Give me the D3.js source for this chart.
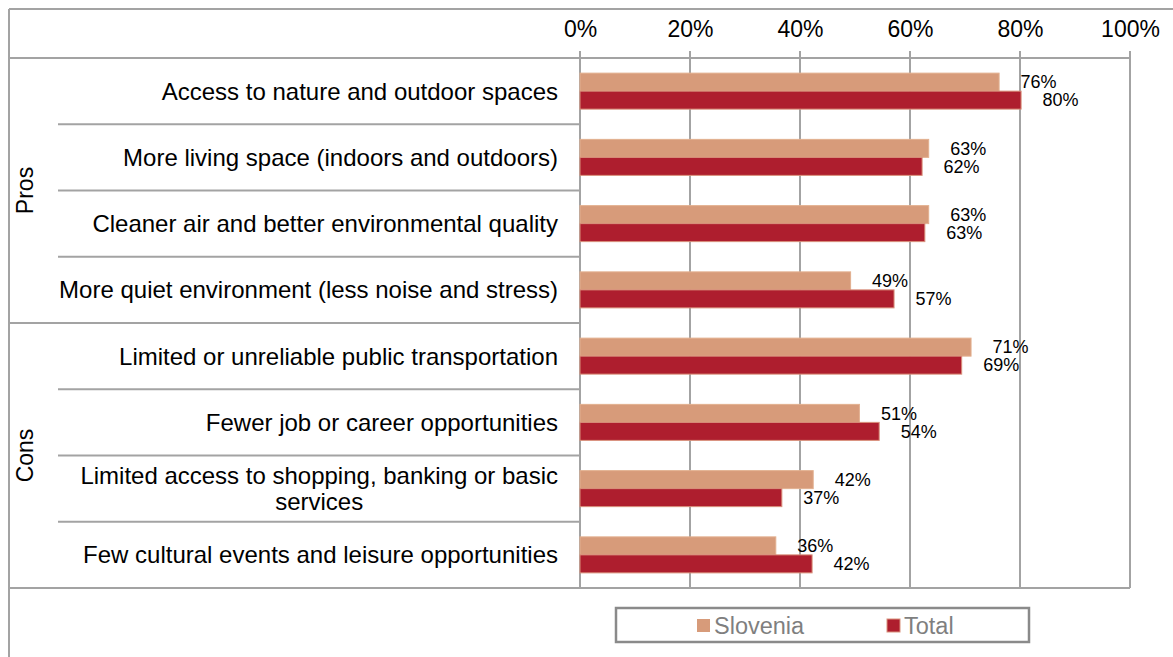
<!DOCTYPE html>
<html><head><meta charset="utf-8">
<script src="https://cdn.jsdelivr.net/npm/d3@7"></script>
<style>
body{margin:0;background:#fff;}
svg{display:block;font-family:"Liberation Sans",Arial,sans-serif;}
</style>
</head><body>
<svg id="chart" width="1173" height="657"></svg>
<script>
// ---- data ----
const categories = [
  "Access to nature and outdoor spaces",
  "More living space (indoors and outdoors)",
  "Cleaner air and better environmental quality",
  "More quiet environment (less noise and stress)",
  "Limited or unreliable public transportation",
  "Fewer job or career opportunities",
  "Limited access to shopping, banking or basic services",
  "Few cultural events and leisure opportunities"
];
const categoryLines = [
  ["Access to nature and outdoor spaces"],
  ["More living space (indoors and outdoors)"],
  ["Cleaner air and better environmental quality"],
  ["More quiet environment (less noise and stress)"],
  ["Limited or unreliable public transportation"],
  ["Fewer job or career opportunities"],
  ["Limited access to shopping, banking or basic", "services"],
  ["Few cultural events and leisure opportunities"]
];
const groupNames = ["Pros", "Cons"];
const groupOf = ["Pros","Pros","Pros","Pros","Cons","Cons","Cons","Cons"];
const seriesNames = ["Slovenia", "Total"];
const slovenia = [76.2, 63.4, 63.4, 49.2, 71.1, 50.8, 42.4, 35.6];
const total    = [80.2, 62.2, 62.7, 57.1, 69.4, 54.4, 36.7, 42.2];
const tickValues = [0, 20, 40, 60, 80, 100];
const tickLabels = ["0%", "20%", "40%", "60%", "80%", "100%"];
const colors = ["#D79B7A", "#AE1E2E"];

// ---- layout ----
const svg = d3.select("#chart");
const X0 = 580, X1 = 1130, Y0 = 58, Y1 = 588;
const lineCol = "#a3a3a3";
const catFont = 24;
const x = d3.scaleLinear().domain([0, 100]).range([X0, X1]);
const y = d3.scaleBand().domain(categories).range([Y0, Y1]).padding(0);
const bw = y.bandwidth();
const ys = d3.scaleBand().domain(seriesNames).range([bw/2 - 18, bw/2 + 18]).padding(0);

// outer frame
svg.append("line").attr("x1", 9).attr("x2", 1173).attr("y1", 9).attr("y2", 9)
  .attr("stroke", lineCol).attr("stroke-width", 2);
svg.append("line").attr("x1", 9).attr("x2", 9).attr("y1", 9).attr("y2", 657)
  .attr("stroke", lineCol).attr("stroke-width", 2);

// header & bottom lines
svg.append("line").attr("x1", 9).attr("x2", X1).attr("y1", Y0).attr("y2", Y0)
  .attr("stroke", lineCol).attr("stroke-width", 2);
svg.append("line").attr("x1", 9).attr("x2", X1).attr("y1", Y1).attr("y2", Y1)
  .attr("stroke", lineCol).attr("stroke-width", 2);

// gridlines
svg.append("g").selectAll("line").data(tickValues).join("line")
  .attr("x1", d => x(d)).attr("x2", d => x(d))
  .attr("y1", Y0 - 7).attr("y2", Y1)
  .attr("stroke", lineCol).attr("stroke-width", 2);

// top axis labels
const axis = d3.axisTop(x).tickValues(tickValues)
  .tickFormat((d, i) => tickLabels[i]).tickSize(0).tickPadding(21);
const ag = svg.append("g").attr("transform", `translate(0,${Y0})`).call(axis);
ag.select(".domain").remove();
ag.selectAll("text").attr("font-size", 23).attr("fill", "#000")
  .attr("font-family", "'Liberation Sans', Arial, sans-serif");

// category dividers
categories.forEach((c, i) => {
  if (i === 0) return;
  const yy = y(c);
  const groupBoundary = groupOf[i] !== groupOf[i - 1];
  svg.append("line").attr("x1", groupBoundary ? 9 : 58).attr("x2", X0)
    .attr("y1", yy).attr("y2", yy)
    .attr("stroke", lineCol).attr("stroke-width", 2);
});

// group labels
groupNames.forEach(g => {
  const idx = categories.filter((c, i) => groupOf[i] === g);
  const top = y(idx[0]), bot = y(idx[idx.length - 1]) + bw;
  const cy = (top + bot) / 2;
  svg.append("text").attr("transform", `translate(25,${cy}) rotate(-90)`)
    .attr("text-anchor", "middle").attr("dy", "0.35em")
    .attr("font-size", 23).attr("fill", "#000").text(g);
});

// category labels
categories.forEach((c, i) => {
  const lines = categoryLines[i];
  const cy = y(c) + bw / 2;
  const lh = 26;
  if (lines.length === 1) {
    svg.append("text").attr("x", 558).attr("y", cy).attr("dy", "0.35em")
      .attr("text-anchor", "end").attr("font-size", catFont).attr("fill", "#000").text(lines[0]);
  } else {
    const t = svg.append("text").attr("font-size", catFont).attr("fill", "#000")
      .attr("text-anchor", "middle");
    const tmp = svg.append("text").attr("font-size", catFont).text(lines[0]);
    const w = tmp.node().getComputedTextLength();
    tmp.remove();
    const cx = 558 - w / 2;
    lines.forEach((ln, k) => {
      t.append("tspan").attr("x", cx)
        .attr("y", cy + (k - (lines.length - 1) / 2) * lh).attr("dy", "0.35em").text(ln);
    });
  }
});

// bars
const seriesData = [slovenia, total];
seriesNames.forEach((s, si) => {
  const g = svg.append("g");
  g.selectAll("rect").data(seriesData[si]).join("rect")
    .attr("x", x(0))
    .attr("y", (d, i) => y(categories[i]) + ys(s))
    .attr("width", d => x(d) - x(0))
    .attr("height", ys.bandwidth())
    .attr("fill", colors[si])
    .attr("stroke", si === 1 ? "#d9917c" : "#e2b08f")
    .attr("stroke-width", 1);
  g.selectAll("text").data(seriesData[si]).join("text")
    .attr("x", d => x(d) + 21.5)
    .attr("y", (d, i) => y(categories[i]) + ys(s) + ys.bandwidth() / 2)
    .attr("dy", "0.35em")
    .attr("font-size", 18).attr("fill", "#000")
    .text(d => Math.round(d) + "%");
});

// legend
const lg = svg.append("g");
lg.append("rect").attr("x", 616).attr("y", 608).attr("width", 413).attr("height", 34)
  .attr("fill", "#fff").attr("stroke", "#8a8a8a").attr("stroke-width", 2.5);
const legendX = [697, 887];
seriesNames.forEach((s, si) => {
  lg.append("rect").attr("x", legendX[si]).attr("y", 619).attr("width", 13).attr("height", 13)
    .attr("fill", colors[si]).attr("stroke", si === 1 ? "#d9917c" : "none");
  lg.append("text").attr("x", legendX[si] + 17).attr("y", 625.5).attr("dy", "0.35em")
    .attr("font-size", 23.5).attr("fill", "#7f7f7f").text(s);
});
</script>
</body></html>
